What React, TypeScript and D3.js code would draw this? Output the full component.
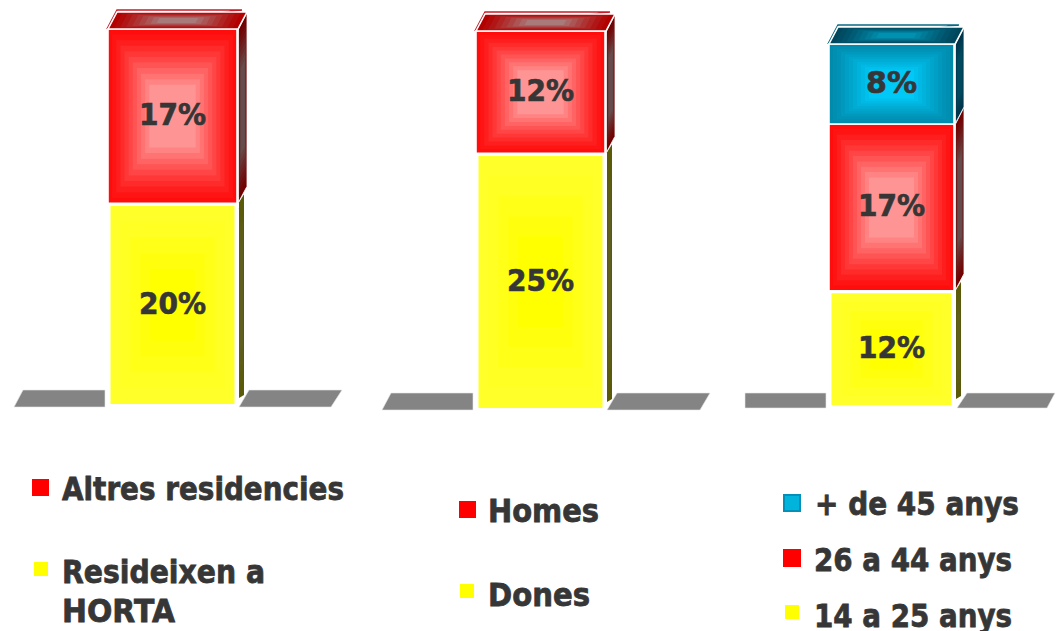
import React from "react";
import * as d3 from "d3";

// ---- data (bar heights; labels are these rounded) ----
const residenceSeries = ["Resideixen a HORTA", "Altres residencies"];
const residenceValues = [19.8, 17.2];
const genderSeries = ["Dones", "Homes"];
const genderValues = [25, 12];
const ageSeries = ["14 a 25 anys", "26 a 44 anys", "+ de 45 anys"];
const ageValues = [11.7, 17.1, 8.2];
const seriesKinds1 = ["yellow", "red"];
const seriesKinds2 = ["yellow", "red"];
const seriesKinds3 = ["yellow", "red", "blue"];

type Pt = [number, number];
const FONT = "'DejaVu Sans', Verdana, sans-serif";
const INK = "#363636";
const fmt = d3.format(".0f");

const palette: Record<string, any> = {
  red: { front: ["#ff0c0c", "#ff9494"], side: ["#720000", "#664c4c"], top: ["#b30000", "#a87a7a"], legend: "#ff0000", outline: "#c81e2a", labelDy: 9 },
  yellow: { front: ["#ffff2a", "#ffff00"], side: ["#5a5a08", "#5f5f20"], top: ["#8a8a00", "#a0a040"], legend: "#ffff00", outline: "#ffff00", labelDy: 10.5 },
  blue: { front: ["#008bad", "#00c9f7"], side: ["#00344a", "#004a60"], top: ["#00465c", "#0090b0"], legend: "#00b4dc", outline: "#0a6a84", labelDy: 9 },
};

const line = d3.line<Pt>().curve(d3.curveLinearClosed);

function shrink(pts: Pt[], k: number): Pt[] {
  const cx = d3.mean(pts, (p) => p[0]) as number;
  const cy = d3.mean(pts, (p) => p[1]) as number;
  return pts.map((p) => [cx + (p[0] - cx) * k, cy + (p[1] - cy) * k] as Pt);
}

function Banded({ pts, colors, stroke, sw = 1.6, steps = 9, reach = 0.36, power = 1.25 }: any) {
  const c = d3.interpolateRgb(colors[0], colors[1]);
  const levels = d3.range(steps);
  return (
    <g>
      {levels.map((i) => (
        <path
          key={i}
          d={line(shrink(pts, 1 - ((1 - reach) * i) / (steps - 1))) as string}
          fill={c(Math.pow(i / (steps - 1), power))}
        />
      ))}
      {stroke && <path d={line(pts) as string} fill="none" stroke={stroke} strokeWidth={sw} />}
    </g>
  );
}

function Stack({ values, kinds, x0, x1, base, top, dx, dy }: any) {
  const total = d3.sum(values as number[]);
  const y = d3.scaleLinear().domain([0, total]).range([base, top]);
  let acc = 0;
  const segs = (values as number[]).map((v: number, i: number) => {
    const s = { v, kind: kinds[i], y0: y(acc), y1: y(acc + v) };
    acc += v;
    return s;
  });
  const last = segs[segs.length - 1];
  const p = palette[last.kind];
  return (
    <g>
      {/* outer rim behind the top face */}
      <path
        d={line([[x0 - 0.5, last.y1 - 1], [x0 + dx, last.y1 + dy - 2], [x1 + dx - 5, last.y1 + dy - 2]]) as string}
        fill="none"
        stroke={p.outline}
        strokeWidth={1.5}
      />
      {segs.map((s: any, i: number) => {
        const pal = palette[s.kind];
        const yellow = s.kind === "yellow";
        const inset = yellow ? 2.5 : 0;
        const sideL = x1 + (yellow ? 1 : 0.5);
        const sideR = x1 + dx - (yellow ? 3 : 0);
        const sidePts: Pt[] = [
          [sideL, s.y0 - (yellow ? 6 : 1)],
          [sideL, s.y1 - (yellow ? 1 : 0)],
          [sideR, s.y1 + dy + (yellow ? 8 : 0)],
          [sideR, s.y0 + dy + (yellow ? 8 : 0)],
        ];
        const frontPts: Pt[] = [
          [x0 + inset, s.y0],
          [x0 + inset, s.y1 + (yellow ? 2.5 : 0)],
          [x1 - inset - 1, s.y1 + (yellow ? 2.5 : 0)],
          [x1 - inset - 1, s.y0],
        ];
        return (
          <g key={i}>
            <Banded pts={sidePts} colors={pal.side} reach={0.5} />
            {!yellow && <path d={line(sidePts) as string} fill="none" stroke="#fff" strokeWidth={0.8} />}
            <Banded pts={frontPts} colors={pal.front} stroke={yellow ? null : "#fff"} steps={yellow ? 5 : 11} />
          </g>
        );
      })}
      {/* top face */}
      <Banded
        pts={[[x0, last.y1], [x0 + dx, last.y1 + dy], [x1 + dx, last.y1 + dy], [x1, last.y1]] as Pt[]}
        colors={p.top}
        stroke="#fff"
        reach={0.3}
      />
      {segs.map((s: any, i: number) => {
        const label = fmt(s.v);
        return (
          <text
            key={i}
            x={(x0 + x1) / 2 - 0.5}
            y={(s.y0 + s.y1) / 2 + palette[s.kind].labelDy}
            textAnchor="middle"
            fontFamily={FONT}
            fontWeight={700}
            fontSize={30}
            textLength={label.length === 1 ? 51 : 67}
            lengthAdjust="spacingAndGlyphs"
            fill={INK}
            stroke={INK}
            strokeWidth={0.7}
          >
            {label}%
          </text>
        );
      })}
    </g>
  );
}

function Floor({ left, right, y0, y1 }: any) {
  return (
    <g fill="#848484" stroke="#e8e8e8" strokeWidth={0.6}>
      <path d={line(left.map((x: number, i: number) => [x, i < 2 ? y1 : y0]) as Pt[]) as string} />
      <path d={line(right.map((x: number, i: number) => [x, i < 2 ? y1 : y0]) as Pt[]) as string} />
    </g>
  );
}

function Marker({ x, y, size, kind }: any) {
  const blue = kind === "blue";
  return (
    <rect x={x} y={y} width={size} height={size} fill={palette[kind].legend} stroke={blue ? "#0090b8" : "none"} strokeWidth={blue ? 2 : 0} />
  );
}

function Label({ text, x, y, w }: any) {
  return (
    <text x={x} y={y} fontFamily={FONT} fontWeight={700} fontSize={32} textLength={w} lengthAdjust="spacingAndGlyphs" fill={INK} stroke={INK} strokeWidth={0.8}>
      {text}
    </text>
  );
}

export default function App() {
  return (
    <div style={{ position: "fixed", left: 0, top: 0 }}>
      <svg width={1056} height={631} style={{ display: "block", background: "#fff" }}>
        <Floor left={[14, 105, 105, 23]} right={[239, 331, 342, 249]} y0={390} y1={407} />
        <Floor left={[382, 473, 473, 391]} right={[607, 700, 710, 617]} y0={393} y1={410} />
        <Floor left={[745, 826, 826, 745]} right={[957, 1047, 1055, 967]} y0={393} y1={408} />

        <Stack values={residenceValues} kinds={seriesKinds1} x0={108} x1={238} base={404} top={29} dx={9} dy={-17} />
        <Stack values={genderValues} kinds={seriesKinds2} x0={476} x1={606} base={408} top={31} dx={9} dy={-17} />
        <Stack values={ageValues} kinds={seriesKinds3} x0={829} x1={955} base={405} top={44} dx={9} dy={-17} />

        <Marker x={32} y={479} size={17} kind="red" />
        <Label text={residenceSeries[1]} x={62} y={499.5} w={282} />
        <Marker x={34} y={562} size={14} kind="yellow" />
        <Label text="Resideixen a" x={62} y={582.5} w={203} />
        <Label text="HORTA" x={62} y={622} w={113} />

        <Marker x={459} y={501} size={17} kind="red" />
        <Label text={genderSeries[1]} x={488} y={521.5} w={111} />
        <Marker x={460} y={584} size={14} kind="yellow" />
        <Label text={genderSeries[0]} x={488} y={605.5} w={102} />

        <Marker x={784} y={495} size={16} kind="blue" />
        <Label text={ageSeries[2]} x={815} y={514.5} w={204} />
        <Marker x={783} y={549} size={18} kind="red" />
        <Label text={ageSeries[1]} x={814} y={570.5} w={198} />
        <Marker x={785} y={605} size={14} kind="yellow" />
        <Label text={ageSeries[0]} x={814} y={626.5} w={198} />
      </svg>
    </div>
  );
}
